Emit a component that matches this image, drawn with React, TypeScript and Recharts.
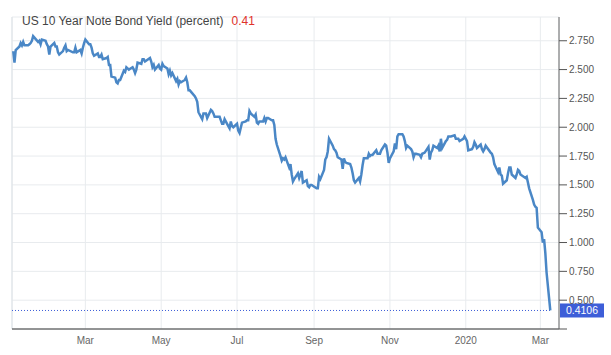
import {
  CartesianGrid,
  Line,
  LineChart,
  ReferenceLine,
  XAxis,
  YAxis,
} from "recharts";

// [day of month, yield %]
const jan19 = [[2, 2.66], [3, 2.56], [4, 2.67], [7, 2.7], [8, 2.73], [9, 2.71], [10, 2.74], [11, 2.71], [14, 2.71], [15, 2.72], [16, 2.73], [17, 2.75], [18, 2.79], [22, 2.74], [23, 2.75], [24, 2.72], [25, 2.76], [28, 2.75], [29, 2.72], [30, 2.7], [31, 2.63]];
const feb19 = [[1, 2.7], [4, 2.73], [5, 2.7], [6, 2.7], [7, 2.65], [8, 2.63], [11, 2.66], [12, 2.69], [13, 2.71], [14, 2.66], [15, 2.67], [19, 2.65], [20, 2.65], [21, 2.69], [22, 2.65], [25, 2.67], [26, 2.64], [27, 2.69], [28, 2.73]];
const mar19 = [[1, 2.76], [4, 2.72], [5, 2.72], [6, 2.69], [7, 2.64], [8, 2.62], [11, 2.64], [12, 2.61], [13, 2.61], [14, 2.63], [15, 2.59], [18, 2.6], [19, 2.61], [20, 2.54], [21, 2.54], [22, 2.44], [25, 2.43], [26, 2.39], [27, 2.38], [28, 2.41], [29, 2.41]];
const apr19 = [[1, 2.49], [2, 2.48], [3, 2.52], [4, 2.51], [5, 2.5], [8, 2.52], [9, 2.5], [10, 2.47], [11, 2.5], [12, 2.56], [15, 2.55], [16, 2.59], [17, 2.59], [18, 2.57], [22, 2.6], [23, 2.57], [24, 2.52], [25, 2.54], [26, 2.5], [29, 2.54], [30, 2.51]];
const may19 = [[1, 2.5], [2, 2.55], [3, 2.53], [6, 2.51], [7, 2.46], [8, 2.49], [9, 2.45], [10, 2.47], [13, 2.4], [14, 2.42], [15, 2.37], [16, 2.4], [17, 2.39], [20, 2.41], [21, 2.43], [22, 2.39], [23, 2.32], [24, 2.32], [28, 2.27], [29, 2.25], [30, 2.22], [31, 2.13]];
const jun19 = [[3, 2.07], [4, 2.12], [5, 2.12], [6, 2.12], [7, 2.08], [10, 2.15], [11, 2.14], [12, 2.12], [13, 2.09], [14, 2.09], [17, 2.09], [18, 2.06], [19, 2.03], [20, 2.03], [21, 2.07], [24, 2.01], [25, 1.99], [26, 2.05], [27, 2.01], [28, 2.0]];
const jul19 = [[1, 2.03], [2, 1.97], [3, 1.95], [5, 2.04], [8, 2.05], [9, 2.06], [10, 2.06], [11, 2.14], [12, 2.12], [15, 2.09], [16, 2.11], [17, 2.04], [18, 2.03], [19, 2.05], [22, 2.05], [23, 2.08], [24, 2.05], [25, 2.08], [26, 2.08], [29, 2.06], [30, 2.06], [31, 2.02]];
const aug19 = [[1, 1.9], [2, 1.85], [5, 1.75], [6, 1.71], [7, 1.73], [8, 1.72], [9, 1.74], [12, 1.65], [13, 1.68], [14, 1.59], [15, 1.53], [16, 1.55], [19, 1.6], [20, 1.56], [21, 1.59], [22, 1.62], [23, 1.52], [26, 1.54], [27, 1.49], [28, 1.48], [29, 1.5], [30, 1.5]];
const sep19 = [[3, 1.47], [4, 1.47], [5, 1.57], [6, 1.55], [9, 1.63], [10, 1.72], [11, 1.74], [12, 1.79], [13, 1.9], [16, 1.84], [17, 1.81], [18, 1.8], [19, 1.78], [20, 1.74], [23, 1.72], [24, 1.64], [25, 1.73], [26, 1.7], [27, 1.69], [30, 1.68]];
const oct19 = [[1, 1.65], [2, 1.6], [3, 1.54], [4, 1.52], [7, 1.56], [8, 1.53], [9, 1.59], [10, 1.67], [11, 1.73], [14, 1.73], [15, 1.77], [16, 1.75], [17, 1.76], [18, 1.76], [21, 1.8], [22, 1.77], [23, 1.77], [24, 1.77], [25, 1.8], [28, 1.85], [29, 1.84], [30, 1.78], [31, 1.69]];
const nov19 = [[1, 1.73], [4, 1.79], [5, 1.86], [6, 1.81], [7, 1.92], [8, 1.94], [11, 1.94], [12, 1.92], [13, 1.88], [14, 1.82], [15, 1.84], [18, 1.81], [19, 1.79], [20, 1.74], [21, 1.77], [22, 1.77], [25, 1.76], [26, 1.74], [27, 1.77], [29, 1.78]];
const dec19 = [[2, 1.83], [3, 1.72], [4, 1.78], [5, 1.8], [6, 1.84], [9, 1.82], [10, 1.84], [11, 1.79], [12, 1.9], [13, 1.82], [16, 1.88], [17, 1.89], [18, 1.92], [19, 1.92], [20, 1.92], [23, 1.93], [24, 1.9], [26, 1.9], [27, 1.88], [30, 1.9], [31, 1.92]];
const jan20 = [[2, 1.88], [3, 1.8], [6, 1.81], [7, 1.83], [8, 1.87], [9, 1.85], [10, 1.82], [13, 1.85], [14, 1.81], [15, 1.79], [16, 1.81], [17, 1.84], [21, 1.78], [22, 1.77], [23, 1.74], [24, 1.68], [27, 1.61], [28, 1.65], [29, 1.59], [30, 1.58], [31, 1.51]];
const feb20 = [[3, 1.54], [4, 1.6], [5, 1.65], [6, 1.65], [7, 1.59], [10, 1.56], [11, 1.59], [12, 1.63], [13, 1.62], [14, 1.59], [18, 1.56], [19, 1.57], [20, 1.52], [21, 1.47], [24, 1.37], [25, 1.33], [26, 1.31], [27, 1.3], [28, 1.13]];
const mar20 = [[2, 1.09], [3, 1.0], [4, 1.03], [5, 0.91], [6, 0.74], [9, 0.4106]];

const months = [
  [2019, 0, jan19], [2019, 1, feb19], [2019, 2, mar19], [2019, 3, apr19],
  [2019, 4, may19], [2019, 5, jun19], [2019, 6, jul19], [2019, 7, aug19],
  [2019, 8, sep19], [2019, 9, oct19], [2019, 10, nov19], [2019, 11, dec19],
  [2020, 0, jan20], [2020, 1, feb20], [2020, 2, mar20],
] as const;

const tickDates = [
  Date.UTC(2019, 2, 1), Date.UTC(2019, 4, 1), Date.UTC(2019, 6, 1),
  Date.UTC(2019, 8, 1), Date.UTC(2019, 10, 1), Date.UTC(2020, 0, 1),
  Date.UTC(2020, 2, 1),
];
const tickLabels = ["Mar", "May", "Jul", "Sep", "Nov", "2020", "Mar"];
const yTicks = [0.25, 0.5, 0.75, 1, 1.25, 1.5, 1.75, 2, 2.25, 2.5, 2.75];

const startDate = Date.UTC(2019, 0, 1);
const endDate = Date.UTC(2020, 2, 16);
const yMin = 0.25;
const yMax = 2.956;
const lastValue = 0.4106;

const data = months.flatMap(([y, m, rows]) =>
  (rows as number[][]).map(([d, v]) => ({ t: Date.UTC(y, m, d), v }))
);
const lastDate = data[data.length - 1].t;

const font = "'Liberation Sans', Arial, sans-serif";

const PriceTag = (props: any) => {
  const vb = props.viewBox;
  if (!vb) return null;
  const x = vb.x + vb.width + 1;
  return (
    <g>
      <rect x={x} y={vb.y - 7} width={44} height={14} fill="#3d5ed8" />
      <text
        x={x + 22}
        y={vb.y}
        dy="0.35em"
        textAnchor="middle"
        fill="#fff"
        fontSize={10.5}
        fontFamily={font}
      >
        {lastValue.toFixed(4)}
      </text>
    </g>
  );
};

const App = () => {
  return (
    <div style={{ position: "absolute", left: 0, top: 0, width: 611, height: 355, background: "#fff" }}>
      <LineChart
        width={611}
        height={355}
        data={data}
        margin={{ top: 17, right: 0, bottom: 0, left: 12 }}
      >
        <CartesianGrid stroke="#e8ebee" />
        <XAxis
          dataKey="t"
          type="number"
          scale="time"
          domain={[startDate, endDate]}
          ticks={tickDates}
          tickFormatter={(v) => tickLabels[tickDates.indexOf(v)] ?? ""}
          tickLine={false}
          axisLine={{ stroke: "#333" }}
          height={26}
          tick={{ fontSize: 10, fill: "#666", fontFamily: font }}
          allowDataOverflow
        />
        <YAxis
          orientation="right"
          domain={[yMin, yMax]}
          ticks={yTicks}
          tickFormatter={(v) => (v === 0.25 ? "" : v.toFixed(3))}
          width={52}
          tickSize={8}
          axisLine={{ stroke: "#666" }}
          tickLine={{ stroke: "#555" }}
          tick={{ fontSize: 10, fill: "#555", fontFamily: font }}
          allowDataOverflow
        />
        <ReferenceLine x={startDate} stroke="#dde2e6" />
        <ReferenceLine
          segment={[
            { x: startDate, y: lastValue },
            { x: lastDate, y: lastValue },
          ]}
          stroke="#3d5ed8"
          strokeDasharray="1 2"
        />
        <ReferenceLine y={lastValue} strokeOpacity={0} label={<PriceTag />} />
        <Line
          type="linear"
          dataKey="v"
          stroke="#4a87c6"
          strokeWidth={2.5}
          dot={false}
          isAnimationActive={false}
        />
      </LineChart>
      <div
        style={{
          position: "absolute",
          left: 22,
          top: 14,
          fontFamily: font,
          fontSize: 12,
          color: "#444",
          whiteSpace: "nowrap",
        }}
      >
        US 10 Year Note Bond Yield (percent)
        <span style={{ color: "#e0322b", marginLeft: 8 }}>0.41</span>
      </div>
    </div>
  );
};

export default App;
